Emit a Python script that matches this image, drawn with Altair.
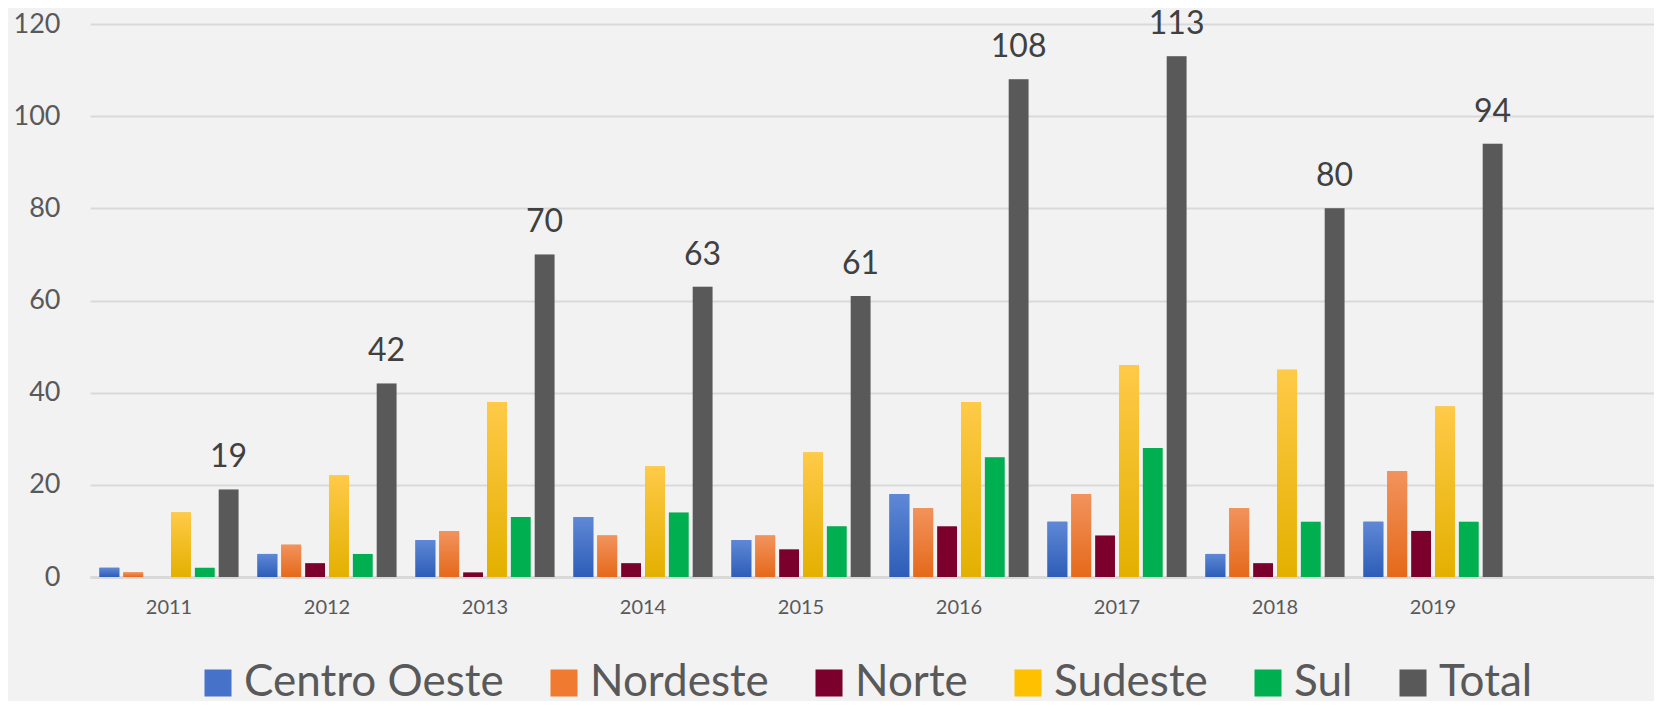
import altair as alt
import pandas as pd

years = ["2011", "2012", "2013", "2014", "2015", "2016", "2017", "2018", "2019"]
series = ["Centro Oeste", "Nordeste", "Norte", "Sudeste", "Sul", "Total"]
centro_oeste = [2, 5, 8, 13, 8, 18, 12, 5, 12]
nordeste = [1, 7, 10, 9, 9, 15, 18, 15, 23]
norte = [0, 3, 1, 3, 6, 11, 9, 3, 10]
sudeste = [14, 22, 38, 24, 27, 38, 46, 45, 37]
sul = [2, 5, 13, 14, 11, 26, 28, 12, 12]
total = [19, 42, 70, 63, 61, 108, 113, 80, 94]

colors = ["#4673c9", "#ef7a30", "#7b002c", "#ffc000", "#00b050", "#595959"]
values = [centro_oeste, nordeste, norte, sudeste, sul, total]

rows = []
for s, vals in zip(series, values):
    for y, v in zip(years, vals):
        rows.append({"ano": y, "regiao": s, "valor": v})
df = pd.DataFrame(rows)

x_domain = years + [" "]
FONT = "Lato"

x_enc = alt.X("ano:N", scale=alt.Scale(domain=x_domain, range=[0, 1580], paddingInner=0.12, paddingOuter=0.06),
              axis=alt.Axis(title=None, labelFontSize=20, labelColor="#595959", labelFont=FONT,
                            labelAngle=0, ticks=False, domain=True, domainColor="#d9d9d9",
                            domainWidth=3, labelPadding=20, grid=False))
xo_enc = alt.XOffset("regiao:N", scale=alt.Scale(domain=series, paddingInner=0.17))
y_enc = alt.Y("valor:Q", scale=alt.Scale(domain=[0, 120], nice=False),
              axis=alt.Axis(title=None, values=[0, 20, 40, 60, 80, 100, 120], labelFontSize=27,
                            labelColor="#595959", labelFont=FONT, ticks=False, domain=False,
                            gridColor="#d9d9d9", gridWidth=2, labelPadding=30))

base = alt.Chart(df)

shadow = base.mark_bar(color="#000000", opacity=0.12, xOffset=2, yOffset=0).encode(
    x=x_enc, xOffset=xo_enc, y=y_enc)

bars = base.mark_bar().encode(
    x=x_enc, xOffset=xo_enc, y=y_enc,
    color=alt.Color("regiao:N", scale=alt.Scale(domain=series, range=colors),
                    legend=alt.Legend(title=None, orient="none", legendX=106, legendY=637,
                                      direction="horizontal", symbolType="square", symbolSize=729,
                                      symbolStrokeWidth=0, labelFontSize=44, labelFont=FONT,
                                      labelColor="#595959", labelLimit=400, columnPadding=38,
                                      symbolOffset=0, labelOffset=4)))

def grad(top, bottom):
    return alt.Gradient(gradient="linear", x1=0, x2=0, y1=0, y2=1,
                        stops=[alt.GradientStop(color=top, offset=0),
                               alt.GradientStop(color=bottom, offset=1)])

grad_layers = []
for name, top, bottom in [("Centro Oeste", "#5f88d6", "#2d5db8"),
                          ("Nordeste", "#f2935d", "#e5691a"),
                          ("Sudeste", "#ffca48", "#e3b000")]:
    grad_layers.append(
        base.transform_filter(alt.datum.regiao == name)
        .mark_bar(fill=grad(top, bottom))
        .encode(x=x_enc, xOffset=xo_enc, y=y_enc)
    )

labels = base.transform_filter(alt.datum.regiao == "Total").mark_text(
    baseline="bottom", dy=-15, fontSize=32, font=FONT, color="#404040"
).encode(x=x_enc, xOffset=xo_enc, y=y_enc, text=alt.Text("valor:Q"))

chart = alt.layer(shadow, bars, *grad_layers, labels).properties(
    width=1564, height=553,
    autosize=alt.AutoSizeParams(type="none"),
    padding={"left": 82, "top": 16, "right": 0, "bottom": 124},
).configure(background="#f2f2f2").configure_view(stroke=None)

chart.save("out.html", embed_options={"renderer": "svg", "actions": False})
